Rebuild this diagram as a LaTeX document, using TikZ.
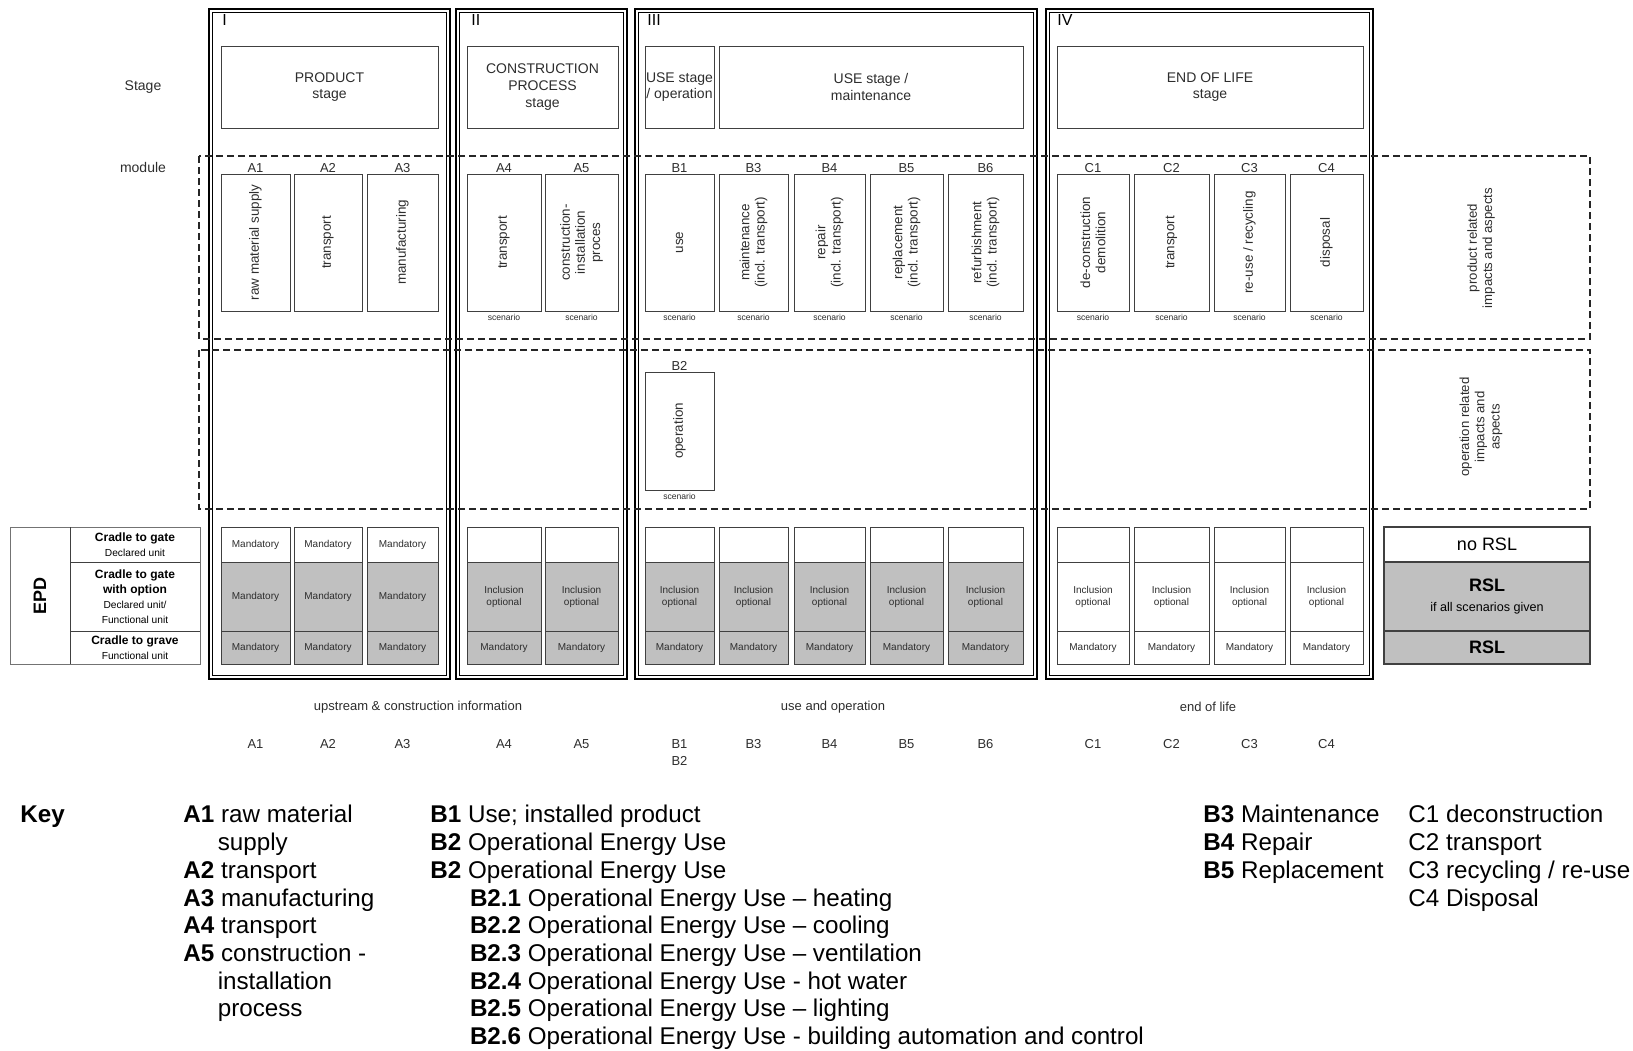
\documentclass[tikz,border=0pt]{standalone}
\usepackage{fontspec}
\setmainfont{Liberation Sans}
\usepackage{xcolor}
\usetikzlibrary{calc}

\definecolor{cellgray}{RGB}{192,192,192}
\definecolor{inkgray}{RGB}{45,45,45}

\tikzset{
  stageframe/.style={line width=1.3pt},
  stageinner/.style={line width=0.45pt},
  box/.style={draw=black!75, line width=0.5pt},
  graybox/.style={box, fill=cellgray},
  dashbox/.style={draw=black!85, line width=0.9pt, dash pattern=on 3.5pt off 2pt},
  numeral/.style={anchor=north west, inner sep=0pt, font=\fontsize{8}{9}\selectfont},
  stagetxt/.style={align=center, text=inkgray, font=\fontsize{7}{8.3}\selectfont},
  rowlbl/.style={text=inkgray, font=\fontsize{7}{8}\selectfont},
  modlbl/.style={anchor=south, inner sep=0.7pt, text=inkgray, font=\fontsize{6.5}{7}\selectfont},
  modtxt/.style={rotate=90, align=center, text=inkgray, font=\fontsize{6.7}{7.6}\selectfont},
  scen/.style={anchor=north, inner sep=1.3pt, text=inkgray, font=\fontsize{4.3}{5}\selectfont},
  celltxt/.style={align=center, text=inkgray, font=\fontsize{5}{6}\selectfont},
  epdtxt/.style={align=center, font=\fontsize{6}{7.4}\selectfont},
  rsltxt/.style={align=center, font=\fontsize{9}{10}\selectfont},
  sidetxt/.style={rotate=90, align=center, text=inkgray, font=\fontsize{6.6}{7.6}\selectfont},
  botlbl/.style={text=inkgray, font=\fontsize{6.5}{7.5}\selectfont},
  keytxt/.style={anchor=north west, align=left, inner sep=0pt, font=\fontsize{12.1}{13.85}\selectfont},
}

\begin{document}
\begin{tikzpicture}[x=0.5pt,y=-0.5pt]
\useasboundingbox (0,0) rectangle (1633,1050);

% stage frames I - IV
\draw[stageframe] (209,9) rectangle (450,679); \draw[stageinner] (212.5,12.5) rectangle (446.5,675.5);
\draw[stageframe] (456,9) rectangle (627,679); \draw[stageinner] (459.5,12.5) rectangle (623.5,675.5);
\draw[stageframe] (635,9) rectangle (1037,679); \draw[stageinner] (638.5,12.5) rectangle (1033.5,675.5);
\draw[stageframe] (1046,9) rectangle (1373,679); \draw[stageinner] (1049.5,12.5) rectangle (1369.5,675.5);
\node[numeral] (numI) at (222,14) {I}; \node[numeral] (numII) at (471,14) {II};
\node[numeral] (numIII) at (647,14) {III}; \node[numeral] (numIV) at (1057,14) {IV};

% dashed bands
\draw[dashbox] (199,156) rectangle (1590,339);
\draw[dashbox] (199,350) rectangle (1590,509);

\node[rowlbl] (stagelbl) at (143,87) {Stage};
\node[rowlbl] (modulelbl) at (143,167) {module};

% stage boxes
\draw[box] (221,46) rectangle (438,128); \node[stagetxt] (product) at (329.5,87) {PRODUCT\\stage};
\draw[box] (467,46) rectangle (618,128); \node[stagetxt] (construct) at (542.5,87) {CONSTRUCTION\\PROCESS\\stage};
\draw[box] (645,46) rectangle (714,128); \node[stagetxt] (useop) at (679.5,87) {USE stage\\/ operation};
\draw[box] (719,46) rectangle (1023,128); \node[stagetxt] (usemaint) at (871,87) {USE stage /\\maintenance};
\draw[box] (1057,46) rectangle (1363,128); \node[stagetxt] (endoflife) at (1210,87) {END OF LIFE\\stage};

% modules
\draw[box] (221,174) rectangle (290,311); \node[modlbl] (lA1) at (255.5,174) {A1}; \node[modtxt] (mA1) at (255.5,242.5) {raw material supply};
\draw[box] (294,174) rectangle (362,311); \node[modlbl] (lA2) at (328,174) {A2}; \node[modtxt] (mA2) at (328,242.5) {transport};
\draw[box] (367,174) rectangle (438,311); \node[modlbl] (lA3) at (402.5,174) {A3}; \node[modtxt] (mA3) at (402.5,242.5) {manufacturing};
\draw[box] (467,174) rectangle (541,311); \node[modlbl] (lA4) at (504,174) {A4}; \node[modtxt] (mA4) at (504,242.5) {transport}; \node[scen] (sA4) at (504,311) {scenario};
\draw[box] (545,174) rectangle (618,311); \node[modlbl] (lA5) at (581.5,174) {A5}; \node[modtxt] (mA5) at (581.5,242.5) {construction-\\installation\\proces}; \node[scen] (sA5) at (581.5,311) {scenario};
\draw[box] (645,174) rectangle (714,311); \node[modlbl] (lB1) at (679.5,174) {B1}; \node[modtxt] (mB1) at (679.5,242.5) {use}; \node[scen] (sB1) at (679.5,311) {scenario};
\draw[box] (719,174) rectangle (788,311); \node[modlbl] (lB3) at (753.5,174) {B3}; \node[modtxt] (mB3) at (753.5,242.5) {maintenance\\(incl. transport)}; \node[scen] (sB3) at (753.5,311) {scenario};
\draw[box] (794,174) rectangle (865,311); \node[modlbl] (lB4) at (829.5,174) {B4}; \node[modtxt] (mB4) at (829.5,242.5) {repair\\(incl. transport)}; \node[scen] (sB4) at (829.5,311) {scenario};
\draw[box] (870,174) rectangle (943,311); \node[modlbl] (lB5) at (906.5,174) {B5}; \node[modtxt] (mB5) at (906.5,242.5) {replacement\\(incl. transport)}; \node[scen] (sB5) at (906.5,311) {scenario};
\draw[box] (948,174) rectangle (1023,311); \node[modlbl] (lB6) at (985.5,174) {B6}; \node[modtxt] (mB6) at (985.5,242.5) {refurbishment\\(incl. transport)}; \node[scen] (sB6) at (985.5,311) {scenario};
\draw[box] (1057,174) rectangle (1129,311); \node[modlbl] (lC1) at (1093,174) {C1}; \node[modtxt] (mC1) at (1093,242.5) {de-construction\\demolition}; \node[scen] (sC1) at (1093,311) {scenario};
\draw[box] (1134,174) rectangle (1209,311); \node[modlbl] (lC2) at (1171.5,174) {C2}; \node[modtxt] (mC2) at (1171.5,242.5) {transport}; \node[scen] (sC2) at (1171.5,311) {scenario};
\draw[box] (1214,174) rectangle (1285,311); \node[modlbl] (lC3) at (1249.5,174) {C3}; \node[modtxt] (mC3) at (1249.5,242.5) {re-use / recycling}; \node[scen] (sC3) at (1249.5,311) {scenario};
\draw[box] (1290,174) rectangle (1363,311); \node[modlbl] (lC4) at (1326.5,174) {C4}; \node[modtxt] (mC4) at (1326.5,242.5) {disposal}; \node[scen] (sC4) at (1326.5,311) {scenario};

% operation module
\draw[box] (645,372) rectangle (714,490); \node[modlbl] (lB2) at (679.5,372) {B2}; \node[modtxt] (mB2) at (679.5,431) {operation}; \node[scen] (sB2) at (679.5,490) {scenario};

\node[sidetxt] (prodrel) at (1481,248) {product related\\impacts and aspects};
\node[sidetxt] (operel) at (1481,427) {operation related\\impacts and\\aspects};

% EPD table
\draw[box, draw=black!55] (10,527) rectangle (200,664);
\draw[box] (70,527) -- (70,664) (70,562) -- (200,562) (70,631) -- (200,631);
\node[rotate=90, font=\bfseries\fontsize{9}{10}\selectfont] (epd) at (40,595.5) {EPD};
\node[epdtxt] (ctgate) at (135,544.5) {\textbf{Cradle to gate}\\{\fontsize{5.1}{6}\selectfont Declared unit}};
\node[epdtxt] (ctoption) at (135,596.5) {\textbf{Cradle to gate}\\\textbf{with option}\\{\fontsize{5.1}{6}\selectfont Declared unit/}\\{\fontsize{5.1}{6}\selectfont Functional unit}};
\node[epdtxt] (ctgrave) at (135,647.5) {\textbf{Cradle to grave}\\{\fontsize{5.1}{6}\selectfont Functional unit}};

% results grid
\draw[box] (221,527) rectangle (290,562); \draw[graybox] (221,562) rectangle (290,631) (221,631) rectangle (290,664);
\node[celltxt] (dA1) at (255.5,544.5) {Mandatory}; \node[celltxt] (oA1) at (255.5,596.5) {Mandatory}; \node[celltxt] (gA1) at (255.5,647.5) {Mandatory};
\draw[box] (294,527) rectangle (362,562); \draw[graybox] (294,562) rectangle (362,631) (294,631) rectangle (362,664);
\node[celltxt] (dA2) at (328,544.5) {Mandatory}; \node[celltxt] (oA2) at (328,596.5) {Mandatory}; \node[celltxt] (gA2) at (328,647.5) {Mandatory};
\draw[box] (367,527) rectangle (438,562); \draw[graybox] (367,562) rectangle (438,631) (367,631) rectangle (438,664);
\node[celltxt] (dA3) at (402.5,544.5) {Mandatory}; \node[celltxt] (oA3) at (402.5,596.5) {Mandatory}; \node[celltxt] (gA3) at (402.5,647.5) {Mandatory};
\draw[box] (467,527) rectangle (541,562); \draw[graybox] (467,562) rectangle (541,631) (467,631) rectangle (541,664);
\node[celltxt] (oA4) at (504,596.5) {Inclusion\\optional}; \node[celltxt] (gA4) at (504,647.5) {Mandatory};
\draw[box] (545,527) rectangle (618,562); \draw[graybox] (545,562) rectangle (618,631) (545,631) rectangle (618,664);
\node[celltxt] (oA5) at (581.5,596.5) {Inclusion\\optional}; \node[celltxt] (gA5) at (581.5,647.5) {Mandatory};
\draw[box] (645,527) rectangle (714,562); \draw[graybox] (645,562) rectangle (714,631) (645,631) rectangle (714,664);
\node[celltxt] (oB1) at (679.5,596.5) {Inclusion\\optional}; \node[celltxt] (gB1) at (679.5,647.5) {Mandatory};
\draw[box] (719,527) rectangle (788,562); \draw[graybox] (719,562) rectangle (788,631) (719,631) rectangle (788,664);
\node[celltxt] (oB3) at (753.5,596.5) {Inclusion\\optional}; \node[celltxt] (gB3) at (753.5,647.5) {Mandatory};
\draw[box] (794,527) rectangle (865,562); \draw[graybox] (794,562) rectangle (865,631) (794,631) rectangle (865,664);
\node[celltxt] (oB4) at (829.5,596.5) {Inclusion\\optional}; \node[celltxt] (gB4) at (829.5,647.5) {Mandatory};
\draw[box] (870,527) rectangle (943,562); \draw[graybox] (870,562) rectangle (943,631) (870,631) rectangle (943,664);
\node[celltxt] (oB5) at (906.5,596.5) {Inclusion\\optional}; \node[celltxt] (gB5) at (906.5,647.5) {Mandatory};
\draw[box] (948,527) rectangle (1023,562); \draw[graybox] (948,562) rectangle (1023,631) (948,631) rectangle (1023,664);
\node[celltxt] (oB6) at (985.5,596.5) {Inclusion\\optional}; \node[celltxt] (gB6) at (985.5,647.5) {Mandatory};
\draw[box] (1057,527) rectangle (1129,562) (1057,562) rectangle (1129,631) (1057,631) rectangle (1129,664);
\node[celltxt] (oC1) at (1093,596.5) {Inclusion\\optional}; \node[celltxt] (gC1) at (1093,647.5) {Mandatory};
\draw[box] (1134,527) rectangle (1209,562) (1134,562) rectangle (1209,631) (1134,631) rectangle (1209,664);
\node[celltxt] (oC2) at (1171.5,596.5) {Inclusion\\optional}; \node[celltxt] (gC2) at (1171.5,647.5) {Mandatory};
\draw[box] (1214,527) rectangle (1285,562) (1214,562) rectangle (1285,631) (1214,631) rectangle (1285,664);
\node[celltxt] (oC3) at (1249.5,596.5) {Inclusion\\optional}; \node[celltxt] (gC3) at (1249.5,647.5) {Mandatory};
\draw[box] (1290,527) rectangle (1363,562) (1290,562) rectangle (1363,631) (1290,631) rectangle (1363,664);
\node[celltxt] (oC4) at (1326.5,596.5) {Inclusion\\optional}; \node[celltxt] (gC4) at (1326.5,647.5) {Mandatory};

% reference service life
\draw[box, line width=1.1pt] (1384,527) rectangle (1590,562);
\draw[graybox, line width=1.1pt] (1384,562) rectangle (1590,631) (1384,631) rectangle (1590,664);
\node[rsltxt] (norsl) at (1487,544.5) {no RSL};
\node[rsltxt] (rslopt) at (1487,596.5) {\textbf{RSL}\\{\fontsize{6.3}{7}\selectfont if all scenarios given}};
\node[rsltxt] (rsl) at (1487,647.5) {\textbf{RSL}};

% information groups
\node[botlbl] (upstream) at (418,707) {upstream \& construction information};
\node[botlbl] (useoper) at (833,707) {use and operation};
\node[botlbl] (eol) at (1208,707) {end of life};
\node[botlbl] (bA1) at (255.5,744) {A1}; \node[botlbl] (bA2) at (328,744) {A2}; \node[botlbl] (bA3) at (402.5,744) {A3};
\node[botlbl] (bA4) at (504,744) {A4}; \node[botlbl] (bA5) at (581.5,744) {A5};
\node[botlbl] (bB1) at (679.5,744) {B1}; \node[botlbl] (bB2) at (679.5,761) {B2};
\node[botlbl] (bB3) at (753.5,744) {B3}; \node[botlbl] (bB4) at (829.5,744) {B4}; \node[botlbl] (bB5) at (906.5,744) {B5}; \node[botlbl] (bB6) at (985.5,744) {B6};
\node[botlbl] (bC1) at (1093,744) {C1}; \node[botlbl] (bC2) at (1171.5,744) {C2}; \node[botlbl] (bC3) at (1249.5,744) {C3}; \node[botlbl] (bC4) at (1326.5,744) {C4};

% key
\node[keytxt] (key) at (20,805) {\textbf{Key}};
\node[keytxt] (keyA) at (183,805) {\textbf{A1} raw material\\\hspace*{17.2pt}supply\\\textbf{A2} transport\\\textbf{A3} manufacturing\\\textbf{A4} transport\\\textbf{A5} construction -\\\hspace*{17.2pt}installation\\\hspace*{17.2pt}process};
\node[keytxt] (keyB) at (430,805) {\textbf{B1} Use; installed product\\\textbf{B2} Operational Energy Use\\\textbf{B2} Operational Energy Use\\
  \hspace*{19.8pt}\textbf{B2.1} Operational Energy Use – heating\\\hspace*{19.8pt}\textbf{B2.2} Operational Energy Use – cooling\\
  \hspace*{19.8pt}\textbf{B2.3} Operational Energy Use – ventilation\\\hspace*{19.8pt}\textbf{B2.4} Operational Energy Use - hot water\\
  \hspace*{19.8pt}\textbf{B2.5} Operational Energy Use – lighting\\\hspace*{19.8pt}\textbf{B2.6} Operational Energy Use - building automation and control};
\node[keytxt] (keyBm) at (1203,805) {\textbf{B3} Maintenance\\\textbf{B4} Repair\\\textbf{B5} Replacement};
\node[keytxt] (keyC) at (1408,805) {C1 deconstruction\\C2 transport\\C3 recycling / re-use\\C4 Disposal};

\end{tikzpicture}
\end{document}
